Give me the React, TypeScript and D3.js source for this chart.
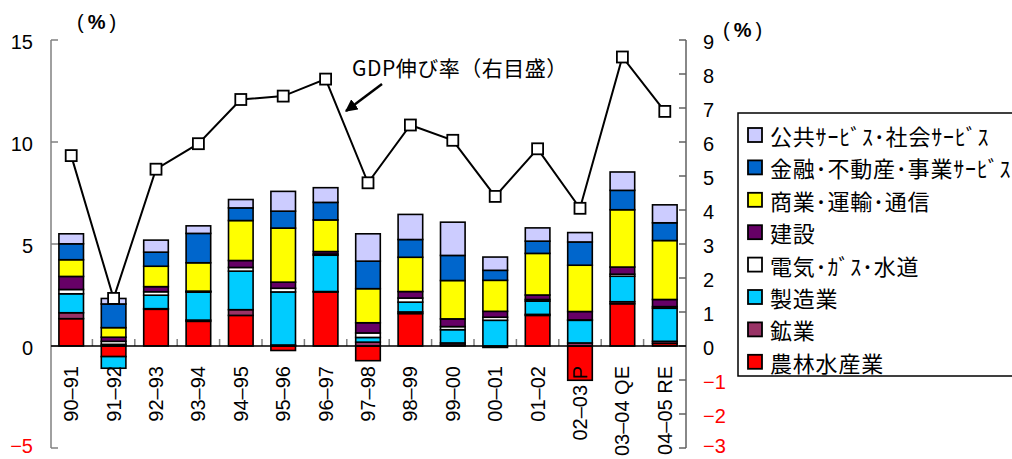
import { useEffect, useRef } from 'react';
import * as d3 from 'd3';

const categories = ['90–91', '91–92', '92–93', '93–94', '94–95', '95–96', '96–97', '97–98', '98–99', '99–00', '00–01', '01–02', '02–03 P', '03–04 QE', '04–05 RE'];

// sector contributions (left axis, %)
const agri = [1.34, -0.52, 1.8, 1.21, 1.5, -0.22, 2.65, -0.72, 1.59, 0.05, -0.07, 1.5, -1.68, 2.07, 0.13];
const mining = [0.29, 0.08, 0.03, 0.06, 0.28, 0.05, 0.02, 0.19, 0.08, 0.1, 0, 0.05, 0.15, 0.1, 0.1];
const manuf = [0.93, -0.57, 0.66, 1.37, 1.89, 2.6, 1.78, 0.23, 0.48, 0.65, 1.26, 0.65, 1.11, 1.25, 1.62];
const util = [0.21, 0.15, 0.17, 0.02, 0.18, 0.18, 0.06, 0.22, 0.2, 0.15, 0.15, 0.08, 0.02, 0.1, 0.08];
const constr = [0.64, 0.2, 0.25, 0.03, 0.34, 0.3, 0.12, 0.5, 0.32, 0.38, 0.29, 0.22, 0.41, 0.35, 0.35];
const trade = [0.82, 0.47, 1.0, 1.39, 1.96, 2.65, 1.55, 1.67, 1.68, 1.88, 1.52, 2.04, 2.27, 2.81, 2.89];
const finance = [0.78, 1.16, 0.69, 1.44, 0.62, 0.83, 0.86, 1.35, 0.87, 1.23, 0.49, 0.6, 1.14, 0.95, 0.87];
const publicSvc = [0.49, 0.27, 0.59, 0.37, 0.41, 0.97, 0.72, 1.34, 1.23, 1.63, 0.65, 0.65, 0.46, 0.9, 0.88];

// GDP growth (right axis, %)
const gdp = [5.6, 1.4, 5.2, 5.95, 7.25, 7.35, 7.85, 4.8, 6.5, 6.05, 4.4, 5.8, 4.05, 8.5, 6.9];

const seriesNames = ['農林水産業', '鉱業', '製造業', '電気･ｶﾞｽ･水道', '建設', '商業･運輸･通信', '金融･不動産･事業ｻｰﾋﾞｽ', '公共ｻｰﾋﾞｽ･社会ｻｰﾋﾞｽ'];
const seriesValues = [agri, mining, manuf, util, constr, trade, finance, publicSvc];
const seriesColors = ['#FF0000', '#993366', '#00CCFF', '#FFFFFF', '#660066', '#FFFF00', '#0066CC', '#CCCCFF'];

const leftTicks = [15, 10, 5, 0, -5];
const rightTicks = [9, 8, 7, 6, 5, 4, 3, 2, 1, 0, -1, -2, -3];

const W = 1012;
const H = 459;
const NUM_FONT = '"Liberation Sans", Arial, sans-serif';
const JP_FONT = '"Noto Sans CJK JP", sans-serif';

export default function App() {
  const ref = useRef<SVGSVGElement>(null);

  useEffect(() => {
    if (!ref.current) return;
    const svg = d3.select(ref.current);
    svg.selectAll('*').remove();

    const x = d3.scaleBand<string>().domain(categories).range([50, 686]).paddingInner(0.42).paddingOuter(0.21);
    const xStep = d3.scaleBand<string>().domain(categories).range([50, 686]);
    const yL = d3.scaleLinear().domain([-5, 15]).range([448, 40]);
    const yR = d3.scaleLinear().domain([-3, 9]).range([448, 40]);

    const rows = categories.map((c, i) => {
      const r: any = { cat: c };
      seriesNames.forEach((n, k) => { r[n] = seriesValues[k][i]; });
      return r;
    });
    const stacked = d3.stack<any>().keys(seriesNames).offset(d3.stackOffsetDiverging)(rows);

    // axes lines
    svg.append('line').attr('x1', 51).attr('x2', 51).attr('y1', yL(15)).attr('y2', yL(-5))
      .attr('stroke', '#808080').attr('stroke-width', 1.5);
    svg.append('line').attr('x1', 686).attr('x2', 686).attr('y1', yR(9)).attr('y2', yR(-3))
      .attr('stroke', '#606060').attr('stroke-width', 1.5);

    leftTicks.forEach(t => {
      svg.append('line').attr('x1', 51).attr('x2', 58).attr('y1', yL(t)).attr('y2', yL(t))
        .attr('stroke', '#808080').attr('stroke-width', 1.5);
      svg.append('text').attr('x', 33).attr('y', Math.min(yL(t) + 2, 446)).attr('text-anchor', 'end')
        .attr('dominant-baseline', 'central').attr('font-family', NUM_FONT).attr('font-size', 20)
        .attr('fill', t < 0 ? '#FF0000' : '#000').text(d3.format('')(t));
    });
    rightTicks.forEach(t => {
      svg.append('line').attr('x1', 679).attr('x2', 686).attr('y1', yR(t)).attr('y2', yR(t))
        .attr('stroke', '#606060').attr('stroke-width', 1.5);
      svg.append('text').attr('x', 703).attr('y', Math.min(yR(t) + 2, 446)).attr('text-anchor', 'start')
        .attr('dominant-baseline', 'central').attr('font-family', NUM_FONT).attr('font-size', 20)
        .attr('fill', t < 0 ? '#FF0000' : '#000').text(d3.format('')(t));
    });

    // category separators on zero line
    categories.slice(1).forEach(c => {
      const bx = xStep(c)!;
      svg.append('line').attr('x1', bx).attr('x2', bx).attr('y1', yL(0) - 7).attr('y2', yL(0))
        .attr('stroke', '#808080').attr('stroke-width', 1.5);
    });

    // bars
    stacked.forEach((s, k) => {
      svg.append('g').selectAll('rect').data(s).join('rect')
        .attr('x', (d: any) => x(d.data.cat)!)
        .attr('width', x.bandwidth())
        .attr('y', (d: any) => yL(Math.max(d[0], d[1])))
        .attr('height', (d: any) => Math.abs(yL(d[0]) - yL(d[1])))
        .attr('fill', seriesColors[k])
        .attr('stroke', '#000')
        .attr('stroke-width', 1.6);
    });

    // zero line
    svg.append('line').attr('x1', 51).attr('x2', 686).attr('y1', yL(0)).attr('y2', yL(0))
      .attr('stroke', '#000').attr('stroke-width', 1.5);

    // x labels
    categories.forEach(c => {
      const cx = x(c)! + x.bandwidth() / 2;
      svg.append('text')
        .attr('transform', `translate(${cx + 7},366) rotate(-90)`)
        .attr('text-anchor', 'end')
        .attr('font-family', NUM_FONT).attr('font-size', 20).attr('fill', '#000')
        .text(c);
    });

    // GDP line
    const line = d3.line<number>()
      .x((_, i) => x(categories[i])! + x.bandwidth() / 2)
      .y(d => yR(d));
    svg.append('path').datum(gdp).attr('d', line).attr('fill', 'none')
      .attr('stroke', '#000').attr('stroke-width', 2);
    svg.append('g').selectAll('rect').data(gdp).join('rect')
      .attr('x', (_, i) => x(categories[i])! + x.bandwidth() / 2 - 5.5)
      .attr('y', d => yR(d) - 5.5)
      .attr('width', 11).attr('height', 11)
      .attr('fill', '#fff').attr('stroke', '#000').attr('stroke-width', 1.8);

    // unit labels
    const unit = (ux: number, uy: number) => {
      const t = svg.append('text').attr('x', ux).attr('y', uy).attr('dominant-baseline', 'central')
        .attr('font-family', NUM_FONT).attr('font-size', 20);
      t.append('tspan').text('(');
      t.append('tspan').attr('dx', 4).attr('font-weight', 'bold').text('%');
      t.append('tspan').attr('dx', 4).text(')');
    };
    unit(77, 22);
    unit(723, 30);

    // annotation
    svg.append('text').attr('x', 352).attr('y', 67).attr('dominant-baseline', 'central')
      .attr('font-family', JP_FONT).attr('font-size', 21).attr('letter-spacing', 0.5).text('GDP伸び率（右目盛）');
    const defs = svg.append('defs');
    defs.append('marker').attr('id', 'arrow').attr('viewBox', '0 0 10 10').attr('refX', 9).attr('refY', 5)
      .attr('markerWidth', 5).attr('markerHeight', 5).attr('orient', 'auto')
      .append('path').attr('d', 'M0,0 L10,5 L0,10 z').attr('fill', '#000');
    svg.append('line').attr('x1', 382).attr('y1', 84).attr('x2', 346).attr('y2', 111)
      .attr('stroke', '#000').attr('stroke-width', 2.5).attr('marker-end', 'url(#arrow)');

    // legend
    svg.append('rect').attr('x', 738).attr('y', 113).attr('width', 300).attr('height', 263)
      .attr('fill', '#fff').attr('stroke', '#000').attr('stroke-width', 1.5);
    const legendOrder = d3.range(seriesNames.length).reverse();
    legendOrder.forEach((k, j) => {
      const cy = 135 + j * 32.4;
      svg.append('rect').attr('x', 748).attr('y', cy - 7).attr('width', 14).attr('height', 14)
        .attr('fill', seriesColors[k]).attr('stroke', '#000').attr('stroke-width', 1.8);
      svg.append('text').attr('x', 770).attr('y', cy).attr('dominant-baseline', 'central')
        .attr('font-family', JP_FONT).attr('font-size', 22).attr('letter-spacing', 0.8)
        .attr('fill', '#000').text(seriesNames[k]);
    });
  }, []);

  return (
    <div style={{ position: 'absolute', left: 0, top: 0, width: W, height: H, background: '#fff' }}>
      <svg ref={ref} width={W} height={H} style={{ display: 'block' }} />
    </div>
  );
}
